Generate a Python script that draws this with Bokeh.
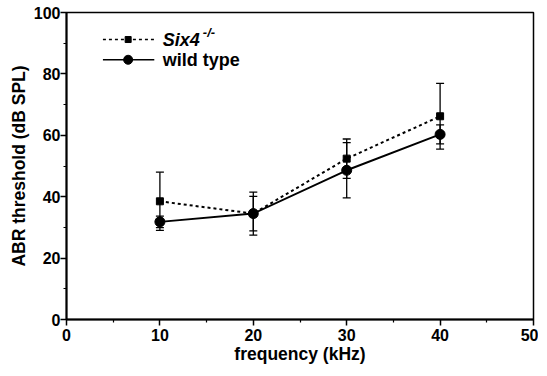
from bokeh.plotting import figure
from bokeh.models import ColumnDataSource, Whisker, TeeHead, FixedTicker
from bokeh.embed import file_html
from bokeh.resources import INLINE
from bokeh.core.properties import value

freq = [10, 20, 30, 40]
six4_mean = [38.5, 34.5, 52.4, 66.2]
six4_sd = [9.5, 7.0, 6.4, 10.7]
wt_mean = [31.8, 34.5, 48.6, 60.3]
wt_sd = [1.9, 5.6, 9.0, 3.1]

x_ticks = [0, 10, 20, 30, 40, 50]
y_ticks = [0, 20, 40, 60, 80, 100]

FONT = "Liberation Sans"

p = figure(width=538, height=361, output_backend="svg", toolbar_location=None,
           x_range=(0, 50), y_range=(0, 100),
           frame_width=467, frame_height=307,
           min_border_left=66, min_border_right=5, min_border_top=12, min_border_bottom=42)
p.background_fill_color = "white"
p.border_fill_color = "white"
p.outline_line_color = "black"
p.outline_line_width = 1.5
p.grid.visible = False

p.xaxis.ticker = FixedTicker(ticks=x_ticks, minor_ticks=[5, 15, 25, 35, 45])
p.yaxis.ticker = FixedTicker(ticks=y_ticks, minor_ticks=[10, 30, 50, 70, 90])
for ax in (p.xaxis, p.yaxis):
    ax.axis_line_width = 2
    ax.axis_line_color = "black"
    ax.major_tick_in = 0
    ax.major_tick_out = 6
    ax.minor_tick_in = 0
    ax.minor_tick_out = 3
    ax.major_tick_line_width = 1.5
    ax.minor_tick_line_width = 1.2
    ax.major_label_text_font = FONT
    ax.major_label_text_font_style = "bold"
    ax.major_label_text_font_size = "16px"
    ax.major_label_text_color = "black"
    ax.axis_label_text_font = FONT
    ax.axis_label_text_font_style = "bold"
    ax.axis_label_text_font_size = "17.5px"
    ax.axis_label_text_color = "black"
p.xaxis.axis_label = "frequency (kHz)"
p.yaxis.axis_label = "ABR threshold (dB SPL)"
p.xaxis.axis_label_standoff = 0
p.yaxis.axis_label_standoff = 2
p.xaxis.major_label_standoff = 3
p.yaxis.major_label_standoff = 0

src6 = ColumnDataSource(dict(x=freq, y=six4_mean,
                             lo=[m - s for m, s in zip(six4_mean, six4_sd)],
                             hi=[m + s for m, s in zip(six4_mean, six4_sd)]))
srcw = ColumnDataSource(dict(x=freq, y=wt_mean,
                             lo=[m - s for m, s in zip(wt_mean, wt_sd)],
                             hi=[m + s for m, s in zip(wt_mean, wt_sd)]))

for src in (src6, srcw):
    w = Whisker(base="x", upper="hi", lower="lo", source=src,
                line_color="black", line_width=1.3,
                upper_head=TeeHead(size=8, line_color="black", line_width=1.3),
                lower_head=TeeHead(size=8, line_color="black", line_width=1.3))
    p.add_layout(w)

p.line("x", "y", source=src6, line_color="black", line_width=2, line_dash="3 3")
p.scatter("x", "y", source=src6, marker="square", size=7, color="black")
p.line("x", "y", source=srcw, line_color="black", line_width=2)
p.scatter("x", "y", source=srcw, marker="circle", size=10, color="black")

# legend (manual)
p.line([3.9, 9.4], [91.2, 91.2], line_color="black", line_width=1.5, line_dash="3 3")
p.scatter([6.6], [91.2], marker="square", size=6, color="black")
p.line([3.9, 9.4], [84.6, 84.6], line_color="black", line_width=1.5)
p.scatter([6.6], [84.6], marker="circle", size=9, color="black")
p.text([10.3], [91.2], text=["Six4"], text_font=value(FONT), text_font_style="bold italic",
       text_font_size="18px", text_baseline="middle", text_color="black")
p.text([14.6], [93.6], text=["-/-"], text_font=value(FONT), text_font_style="bold italic",
       text_font_size="13px", text_baseline="middle", text_color="black")
p.text([10.3], [84.6], text=["wild type"], text_font=value(FONT), text_font_style="bold",
       text_font_size="18px", text_baseline="middle", text_color="black")

open("out.html", "w").write(file_html(p, INLINE))
